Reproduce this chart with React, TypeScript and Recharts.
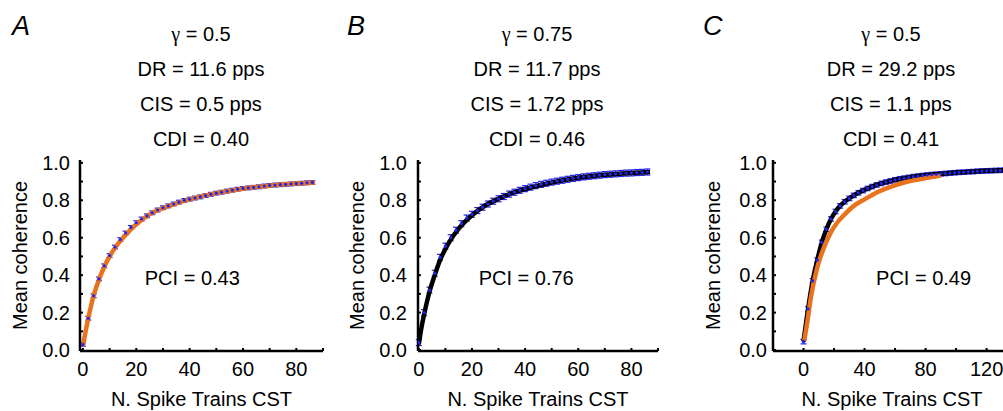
import { ComposedChart, Scatter, Line, XAxis, YAxis, ErrorBar, ReferenceDot, Label } from 'recharts';

const BLUE = '#2323f0';
const ORANGE = '#e8731c';
const FONT = '"Liberation Sans", Arial, Helvetica, sans-serif';

// header text per panel
const letters = ['A', 'B', 'C'];
const gammas = ['0.5', '0.75', '0.5'];
const drs = ['11.6', '11.7', '29.2'];
const ciss = ['0.5', '1.72', '1.1'];
const cdis = ['0.40', '0.46', '0.41'];
const pcis = ['0.43', '0.76', '0.49'];

// panel A: mean coherence vs number of spike trains
const aTrains = [0, 2, 4, 6, 8, 10, 12, 14, 16, 18, 20, 22, 24, 26, 28, 30, 32, 34, 36, 38, 40, 42, 44, 46, 48, 50, 52, 54, 56, 58, 60, 62, 64, 66, 68, 70, 72, 74, 76, 78, 80, 82, 84, 86];
const aCoh = [0.03, 0.17, 0.29, 0.38, 0.45, 0.505, 0.55, 0.59, 0.625, 0.655, 0.68, 0.7, 0.717, 0.733, 0.748, 0.76, 0.77, 0.78, 0.79, 0.799, 0.806, 0.812, 0.818, 0.825, 0.832, 0.838, 0.843, 0.849, 0.854, 0.859, 0.863, 0.866, 0.869, 0.872, 0.876, 0.879, 0.881, 0.883, 0.885, 0.887, 0.889, 0.891, 0.893, 0.895];
const aErr = 0.01;
const aFitX = [0, 1, 2, 4, 6, 8, 10, 13, 16, 20, 25, 30, 35, 40, 50, 60, 70, 80, 87];
const aFitY = [0.02, 0.1, 0.17, 0.29, 0.375, 0.445, 0.5, 0.565, 0.615, 0.672, 0.725, 0.758, 0.783, 0.805, 0.838, 0.862, 0.878, 0.889, 0.895];

// panel B
const bTrains = aTrains;
const bCoh = [0.04, 0.2, 0.32, 0.41, 0.495, 0.555, 0.6, 0.64, 0.675, 0.705, 0.725, 0.745, 0.763, 0.78, 0.795, 0.808, 0.82, 0.833, 0.843, 0.853, 0.862, 0.87, 0.878, 0.885, 0.891, 0.897, 0.902, 0.907, 0.912, 0.917, 0.921, 0.925, 0.928, 0.931, 0.934, 0.937, 0.939, 0.941, 0.943, 0.945, 0.946, 0.948, 0.949, 0.951];
const bErr = 0.016;
const bFitX = [0, 1, 2, 4, 6, 8, 10, 13, 16, 20, 25, 30, 35, 40, 50, 60, 70, 80, 87];
const bFitY = [0.03, 0.12, 0.19, 0.31, 0.4, 0.48, 0.54, 0.61, 0.665, 0.72, 0.772, 0.808, 0.838, 0.86, 0.895, 0.92, 0.936, 0.946, 0.951];

// panel C
const cTrains = [0, 3, 6, 9, 12, 15, 18, 21, 24, 27, 30, 33, 36, 39, 42, 45, 48, 51, 54, 57, 60, 63, 66, 69, 72, 75, 78, 81, 84, 87, 90, 93, 96, 99, 102, 105, 108, 111, 114, 117, 120, 123, 126, 129, 132, 135];
const cCoh = [0.045, 0.22, 0.37, 0.48, 0.575, 0.645, 0.7, 0.74, 0.77, 0.792, 0.81, 0.826, 0.84, 0.852, 0.863, 0.873, 0.882, 0.89, 0.897, 0.903, 0.909, 0.914, 0.918, 0.922, 0.926, 0.929, 0.932, 0.935, 0.937, 0.939, 0.941, 0.943, 0.945, 0.947, 0.949, 0.95, 0.952, 0.953, 0.955, 0.956, 0.957, 0.958, 0.959, 0.96, 0.961, 0.962];
const cErr = 0.012;
const cFitX = [0.5, 2.5, 5, 9, 14, 18, 22, 27, 33, 40, 48, 57, 66, 78, 90];
const cFitY = [0.05, 0.15, 0.29, 0.44, 0.56, 0.63, 0.68, 0.725, 0.77, 0.805, 0.842, 0.872, 0.895, 0.915, 0.932];

const yTicks = [0, 0.1, 0.2, 0.3, 0.4, 0.5, 0.6, 0.7, 0.8, 0.9, 1.0];

const pts = (xs: number[], ys: number[], err: number) => xs.map((x, i) => ({ x, y: ys[i], err }));
const line = (xs: number[], ys: number[]) => xs.map((x, i) => ({ x, y: ys[i] }));

const yFmt = (v: number) => (Math.round(v * 10) % 2 === 0 ? v.toFixed(1) : '');

interface PanelProps {
  left: number;
  width: number;
  yWidth: number;
  right: number;
  yTitleX: number;
  yTickMargin: number;
  xDomain: [number, number];
  xTicks: number[];
  xLabelEvery: number;
  points: Array<{ x: number; y: number; err: number }>;
  black?: Array<{ x: number; y: number }>;
  orange?: Array<{ x: number; y: number }>;
  pci: string;
  pciAt: [number, number];
}

function Panel(p: PanelProps) {
  const tick = { fill: '#000', fontSize: 20 };
  return (
    <div style={{ position: 'absolute', left: p.left, top: 150 }}>
      <ComposedChart width={p.width} height={261} margin={{ top: 10, right: p.right, bottom: 0, left: 0 }}>
        <XAxis
          type="number"
          dataKey="x"
          domain={p.xDomain}
          ticks={p.xTicks}
          interval={0}
          allowDataOverflow
          tickFormatter={(v: number) => (v % p.xLabelEvery === 0 ? String(v) : '')}
          height={60}
          tick={tick}
          tickSize={-3}
          tickMargin={14}
          axisLine={{ stroke: '#000', strokeWidth: 2.5 }}
          tickLine={{ stroke: '#000', strokeWidth: 2 }}
        >
          <Label
            content={({ viewBox }: any) => (
              <text x={viewBox.x + viewBox.width / 2} y={viewBox.y + 55} textAnchor="middle" fontSize={20} fill="#000">
                N. Spike Trains CST
              </text>
            )}
          />
        </XAxis>
        <YAxis
          type="number"
          dataKey="y"
          domain={[-0.005, 1.015]}
          ticks={yTicks}
          interval={0}
          tickFormatter={yFmt}
          width={p.yWidth}
          tick={tick}
          tickSize={-3}
          tickMargin={p.yTickMargin}
          axisLine={{ stroke: '#000', strokeWidth: 2.5 }}
          tickLine={{ stroke: '#000', strokeWidth: 2 }}
        >
          <Label
            content={({ viewBox }: any) => {
              const cx = viewBox.x + p.yTitleX;
              const cy = viewBox.y + viewBox.height / 2;
              return (
                <text x={cx} y={cy} transform={`rotate(-90 ${cx} ${cy})`} textAnchor="middle" fontSize={20} fill="#000">
                  Mean coherence
                </text>
              );
            }}
          />
        </YAxis>
        <Scatter
          data={p.points}
          fill={BLUE}
          isAnimationActive={false}
          shape={(s: any) => <circle cx={s.cx} cy={s.cy} r={1.6} fill={BLUE} />}
        >
          <ErrorBar dataKey="err" direction="y" width={3} stroke={BLUE} strokeWidth={1.2} />
        </Scatter>
        {p.black && (
          <Line data={p.black} dataKey="y" type="monotone" stroke="#000" strokeWidth={4.5} dot={false} isAnimationActive={false} />
        )}
        {p.orange && (
          <Line data={p.orange} dataKey="y" type="monotone" stroke={ORANGE} strokeWidth={4.5} dot={false} isAnimationActive={false} />
        )}
        <ReferenceDot
          x={p.pciAt[0]}
          y={p.pciAt[1]}
          r={0}
          fill="none"
          stroke="none"
          label={{ value: `PCI = ${p.pci}`, position: 'center', fontSize: 20, fill: '#000' }}
        />
      </ComposedChart>
    </div>
  );
}

const headerX = [201, 537, 891];
const letterX = [12, 347, 703];

export default function App() {
  return (
    <div style={{ position: 'fixed', left: 0, top: 0, width: 1003, height: 411, overflow: 'hidden', background: '#fff', fontFamily: FONT }}>
      <svg width={1003} height={150} style={{ position: 'absolute', left: 0, top: 0 }}>
        {letters.map((l, i) => (
          <g key={l} fill="#000" fontSize={20} textAnchor="middle">
            <text x={letterX[i]} y={35} textAnchor="start" fontSize={27} fontStyle="italic">{l}</text>
            <text x={headerX[i]} y={41}>
              <tspan fontFamily='"Liberation Serif", "Times New Roman", serif'>γ</tspan> = {gammas[i]}
            </text>
            <text x={headerX[i]} y={76}>DR = {drs[i]} pps</text>
            <text x={headerX[i]} y={111}>CIS = {ciss[i]} pps</text>
            <text x={headerX[i]} y={146}>CDI = {cdis[i]}</text>
          </g>
        ))}
      </svg>
      <Panel
        left={0}
        width={340}
        yWidth={80}
        right={17}
        yTitleX={27}
        yTickMargin={13}
        xDomain={[-1.1, 90]}
        xTicks={[0, 10, 20, 30, 40, 50, 60, 70, 80, 90]}
        xLabelEvery={20}
        points={pts(aTrains, aCoh, aErr)}
        orange={line(aFitX, aFitY)}
        pci={pcis[0]}
        pciAt={[41, 0.385]}
      />
      <Panel
        left={340}
        width={340}
        yWidth={78}
        right={22}
        yTitleX={24}
        yTickMargin={14}
        xDomain={[-0.3, 90]}
        xTicks={[0, 10, 20, 30, 40, 50, 60, 70, 80, 90]}
        xLabelEvery={20}
        points={pts(bTrains, bCoh, bErr)}
        black={line(bFitX, bFitY)}
        pci={pcis[1]}
        pciAt={[40.4, 0.385]}
      />
      <Panel
        left={670}
        width={370}
        yWidth={103}
        right={29}
        yTitleX={50}
        yTickMargin={9}
        xDomain={[-20, 136]}
        xTicks={[0, 20, 40, 60, 80, 100, 120]}
        xLabelEvery={40}
        points={pts(cTrains, cCoh, cErr)}
        black={line(cTrains, cCoh)}
        orange={line(cFitX, cFitY)}
        pci={pcis[2]}
        pciAt={[78.7, 0.385]}
      />
    </div>
  );
}
